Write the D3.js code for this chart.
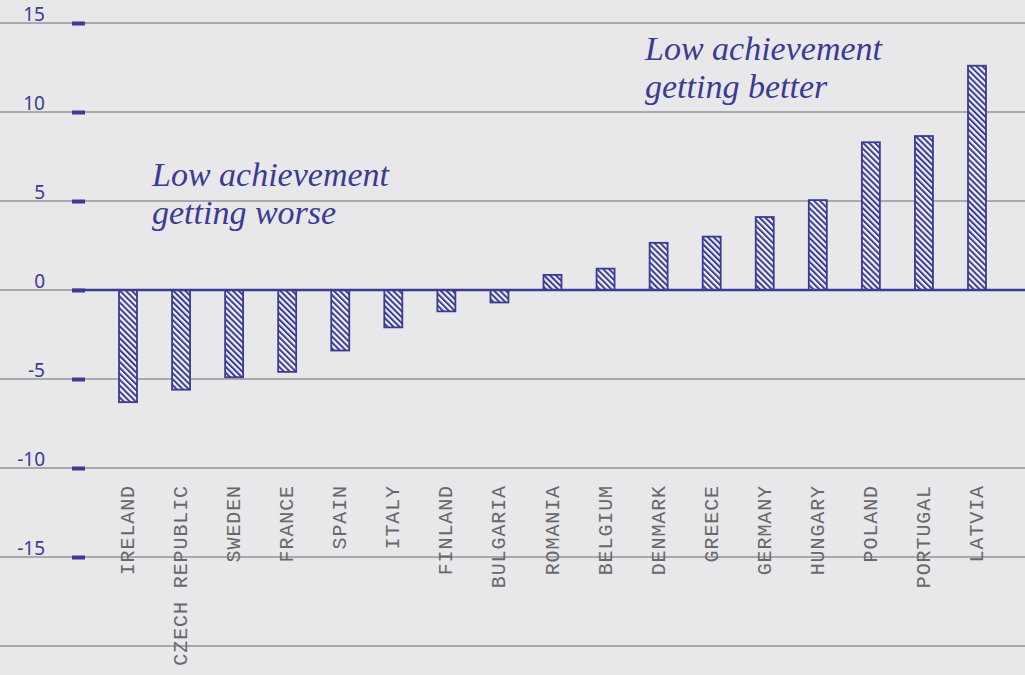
<!DOCTYPE html>
<html>
  <head>
    <meta charset="utf-8">
    <title>Low achievement change</title>
    <style>
      body { margin: 0; background: #e8e8ea; }
      svg { display: block; }
      .ruled { stroke: #9a9a9c; stroke-width: 2.2px; opacity: 0.8; }
      .axis text { font-family: "Noto Sans", sans-serif; font-size: 19px; fill: #3b3b93; }
      .axis line { stroke: #3b3b93; stroke-width: 4px; }
      .cat { font-family: "Liberation Mono", monospace; font-size: 20px; letter-spacing: 0.9px; fill: #68686a; }
      .note { font-family: "Liberation Serif", serif; font-style: italic; font-size: 34px; fill: #3b3b93; }
    </style>
  </head>
  <body>
    <svg width="1025" height="675"></svg>

    <script src="https://d3js.org/d3.v7.min.js"></script>
    <script>
      // Countries, left to right
      const countries = ['IRELAND', 'CZECH REPUBLIC', 'SWEDEN', 'FRANCE', 'SPAIN', 'ITALY',
        'FINLAND', 'BULGARIA', 'ROMANIA', 'BELGIUM', 'DENMARK', 'GREECE', 'GERMANY',
        'HUNGARY', 'POLAND', 'PORTUGAL', 'LATVIA'];
      // Change in share of low achievers (percentage points)
      const change = [-6.3, -5.6, -4.9, -4.6, -3.4, -2.1, -1.2, -0.7, 0.85, 1.2,
        2.65, 3.0, 4.1, 5.05, 8.3, 8.65, 12.6];
      const yTicks = [15, 10, 5, 0, -5, -10, -15];
      const notes = [
        { lines: ['Low achievement', 'getting worse'], x: 152, y: 186 },
        { lines: ['Low achievement', 'getting better'], x: 645, y: 60 }
      ];

      const width = 1025, height = 675;
      const blue = '#3b3b93';

      const svg = d3.select('svg');

      const x = d3.scalePoint()
        .domain(countries)
        .range([128, 977]);

      const y = d3.scaleLinear()
        .domain([-15, 15])
        .range([557, 23]);

      const barW = 18;

      // hatch fill for the bars
      const pat = svg.append('defs').append('pattern')
        .attr('id', 'hatch')
        .attr('patternUnits', 'userSpaceOnUse')
        .attr('width', 4.2)
        .attr('height', 4.2)
        .attr('patternTransform', 'rotate(-45)');
      pat.append('rect').attr('width', 4.2).attr('height', 4.2).attr('fill', '#f1f1f3');
      pat.append('line')
        .attr('x1', 1).attr('y1', 0).attr('x2', 1).attr('y2', 4.2)
        .attr('stroke', blue).attr('stroke-width', 2);

      // notebook ruling, one line per tick and one below
      const rules = yTicks.concat([-20]);
      svg.append('g').selectAll('line')
        .data(rules)
        .join('line')
        .attr('class', 'ruled')
        .attr('x1', 0).attr('x2', width)
        .attr('y1', d => y(d)).attr('y2', d => y(d));

      // y axis: short dashes and labels sitting above the ruling
      const axis = svg.append('g')
        .attr('class', 'axis')
        .attr('transform', 'translate(85,0)')
        .call(d3.axisLeft(y).tickValues(yTicks).tickSize(13).tickFormat(d3.format('d')));
      axis.select('.domain').remove();
      axis.selectAll('text')
        .attr('x', -40)
        .attr('dy', '-0.15em')
        .text(d => d < 0 ? '-' + Math.abs(d) : d);

      // bars
      svg.append('g').selectAll('rect')
        .data(countries)
        .join('rect')
        .attr('x', d => x(d) - barW / 2)
        .attr('width', barW)
        .attr('y', (d, i) => y(Math.max(0, change[i])))
        .attr('height', (d, i) => Math.abs(y(change[i]) - y(0)))
        .attr('fill', 'url(#hatch)')
        .attr('stroke', blue)
        .attr('stroke-width', 1.8);

      // zero line
      svg.append('line')
        .attr('x1', 72).attr('x2', width)
        .attr('y1', y(0)).attr('y2', y(0))
        .attr('stroke', blue)
        .attr('stroke-width', 2.5);

      // category labels, rotated
      svg.append('g').selectAll('text')
        .data(countries)
        .join('text')
        .attr('class', 'cat')
        .attr('text-anchor', 'end')
        .attr('transform', d => `translate(${x(d) + 6},485) rotate(-90)`)
        .text(d => d);

      // annotations
      notes.forEach(n => {
        const t = svg.append('text')
          .attr('class', 'note')
          .attr('x', n.x)
          .attr('y', n.y);
        n.lines.forEach((l, i) => {
          t.append('tspan')
            .attr('x', n.x)
            .attr('dy', i === 0 ? 0 : 38)
            .text(l);
        });
      });
    </script>
  </body>
</html>
